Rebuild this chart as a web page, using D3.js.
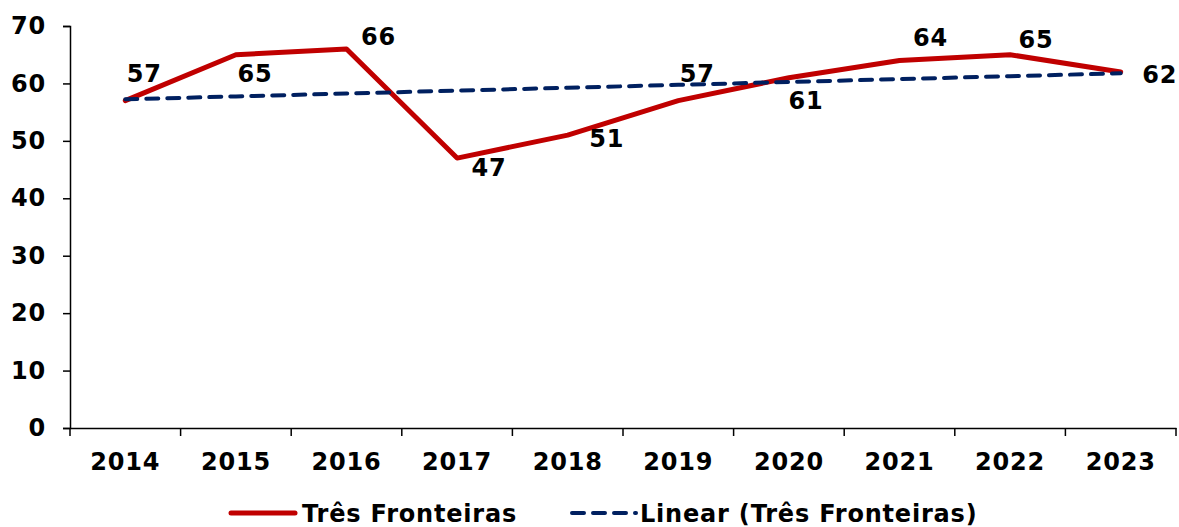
<!DOCTYPE html>
<html>
<head>
<meta charset="utf-8">
<script src="https://cdn.jsdelivr.net/npm/d3@7"></script>
<style>
  body { margin: 0; background: #fff; }
  text { font-family: Verdana, "DejaVu Sans", sans-serif; font-weight: bold; fill: #000; letter-spacing: 0.8px; }
</style>
</head>
<body>
<script>
// data
const years = ["2014", "2015", "2016", "2017", "2018", "2019", "2020", "2021", "2022", "2023"];
const values = [57, 65, 66, 47, 51, 57, 61, 64, 65, 62];
const yTicks = [0, 10, 20, 30, 40, 50, 60, 70];
const seriesName = "Três Fronteiras";
const trendName = "Linear (Três Fronteiras)";

// where each data label sits relative to its point (dx, dy)
const labelOffset = [[19, -19], [19, 27], [32, -4], [32, 18], [39, 12],
                     [19, -19], [17, 31], [31, -14], [26, -7], [39, 11]];

let width = 1179;
let height = 527;

let svg = d3.select("body").append("svg")
  .attr("width", width)
  .attr("height", height);

let x = d3.scaleBand().domain(years).range([70, 1176]);
let y = d3.scaleLinear().domain([0, 70]).range([428, 26]);

// linear trendline (least squares over the index)
let n = values.length;
let mx = d3.mean(d3.range(n));
let my = d3.mean(values);
let slope = d3.sum(values, (v, i) => (i - mx) * (v - my)) / d3.sum(d3.range(n), i => (i - mx) ** 2);
let trend = years.map((yr, i) => my + slope * (i - mx));

// axes
let yAxis = svg.append("g")
  .attr("transform", "translate(70,0)")
  .call(d3.axisLeft(y).tickValues(yTicks).tickSize(7).tickPadding(17));
yAxis.selectAll("text").style("font-size", "24px");

let xAxis = svg.append("g")
  .attr("transform", "translate(0,428)")
  .call(d3.axisBottom(x).tickSize(0).tickPadding(25));
xAxis.selectAll("text").style("font-size", "24px");
// ticks on category boundaries
xAxis.selectAll(".bound")
  .data(d3.range(n + 1))
  .enter().append("line")
  .attr("x1", i => x.range()[0] + i * x.step())
  .attr("x2", i => x.range()[0] + i * x.step())
  .attr("y1", 0).attr("y2", 8)
  .attr("stroke", "#000").attr("stroke-width", 1.5);

svg.selectAll(".domain").attr("stroke", "#000").attr("stroke-width", 1.5);
svg.selectAll(".tick line").attr("stroke", "#000").attr("stroke-width", 1.5);

let cx = d => x(d) + x.bandwidth() / 2;

// series line
svg.append("path")
  .datum(values)
  .attr("fill", "none")
  .attr("stroke", "#C00000")
  .attr("stroke-width", 5)
  .attr("stroke-linejoin", "round")
  .attr("stroke-linecap", "round")
  .attr("d", d3.line().x((v, i) => cx(years[i])).y(v => y(v)));

// trendline
svg.append("path")
  .datum(trend)
  .attr("fill", "none")
  .attr("stroke", "#002060")
  .attr("stroke-width", 4)
  .attr("stroke-dasharray", "12,9")
  .attr("stroke-linecap", "round")
  .attr("d", d3.line().x((v, i) => cx(years[i])).y(v => y(v)));

// data labels
svg.selectAll(".lbl")
  .data(values)
  .enter().append("text")
  .attr("class", "lbl")
  .attr("x", (v, i) => cx(years[i]) + labelOffset[i][0])
  .attr("y", (v, i) => y(v) + labelOffset[i][1])
  .attr("text-anchor", "middle")
  .style("font-size", "24px")
  .text(v => v);

// legend
let legend = svg.append("g");
legend.append("line")
  .attr("x1", 231).attr("x2", 295).attr("y1", 513).attr("y2", 513)
  .attr("stroke", "#C00000").attr("stroke-width", 5).attr("stroke-linecap", "round");
legend.append("text")
  .attr("x", 302).attr("y", 522)
  .style("font-size", "24px")
  .text(seriesName);
legend.append("line")
  .attr("x1", 572).attr("x2", 636).attr("y1", 513).attr("y2", 513)
  .attr("stroke", "#002060").attr("stroke-width", 4)
  .attr("stroke-dasharray", "12,9").attr("stroke-linecap", "round");
legend.append("text")
  .attr("x", 640).attr("y", 522)
  .style("font-size", "24px")
  .text(trendName);
</script>
</body>
</html>
